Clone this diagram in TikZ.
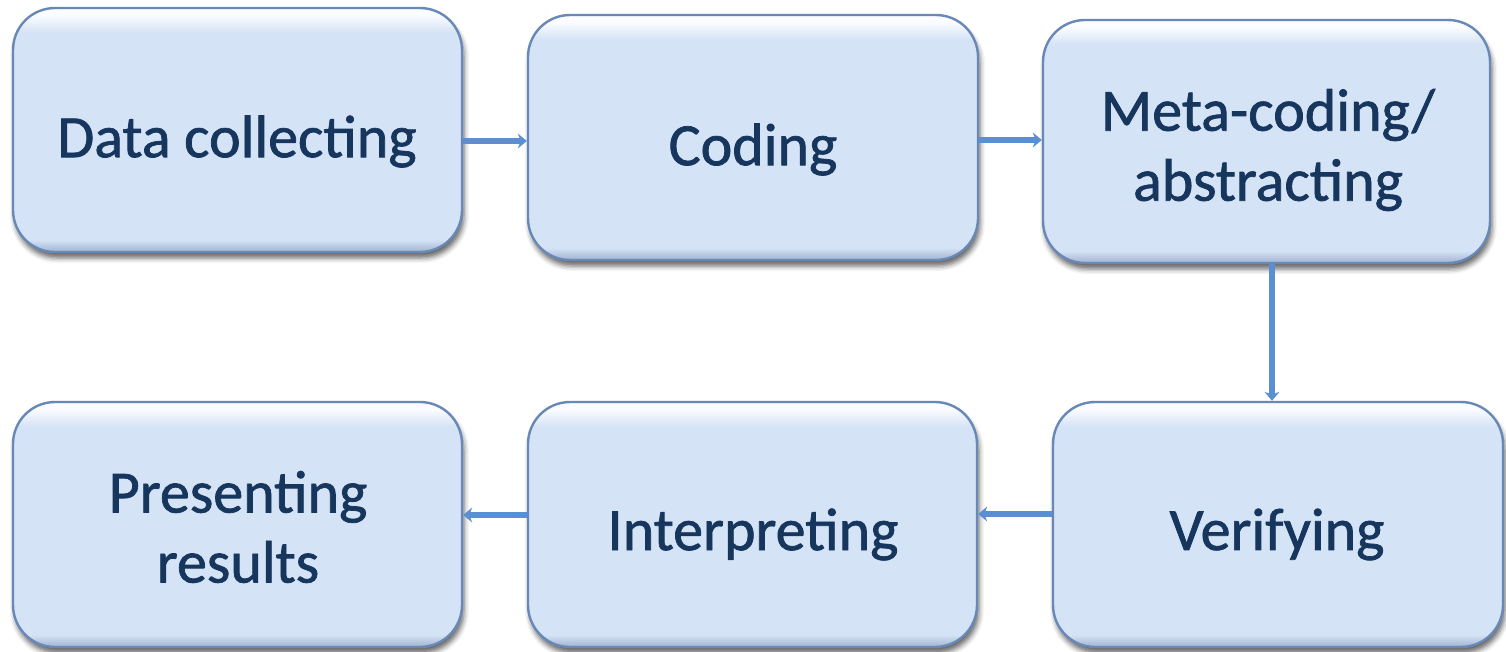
\documentclass[tikz,border=0pt]{standalone}
\usepackage{fontspec}
\setmainfont[FakeBold=1.2]{Carlito}
\usetikzlibrary{arrows.meta,shadows.blur}

\definecolor{boxmid}{RGB}{213,227,246}
\definecolor{boxlight}{RGB}{250,252,255}
\definecolor{boxdark}{RGB}{160,178,206}
\definecolor{boxedge}{RGB}{104,136,184}
\definecolor{labelink}{RGB}{23,54,93}
\definecolor{linkblue}{RGB}{90,143,211}

% vertical bevel: dark rim at the bottom, highlight at the top
\pgfdeclareverticalshading{bevelshade}{100bp}{%
  color(0bp)=(boxdark); color(25bp)=(boxdark); color(27.5bp)=(boxmid);
  color(70bp)=(boxmid); color(73.5bp)=(boxlight); color(100bp)=(boxlight)}

\tikzset{
  stepbox/.style={rectangle, rounded corners=42pt, draw=boxedge, line width=2.4pt,
    shading=bevelshade, minimum width=449pt, minimum height=244pt, inner sep=0pt,
    blur shadow={shadow xshift=2pt, shadow yshift=-6pt, shadow opacity=60,
      shadow blur radius=5pt}},
  steplabel/.style={text=labelink, font=\fontsize{60}{70}\selectfont, align=center,
    inner sep=0pt},
  link/.style={draw=linkblue, line width=6.5pt,
    -{Stealth[length=9pt, width=15pt]}}
}

\begin{document}
\begin{tikzpicture}[x=1pt, y=-1pt]
  \useasboundingbox (0,0) rectangle (1506,651);

  % boxes
  \node[stepbox] (collect)   at (237.5,130)   {};
  \node[stepbox, minimum width=450pt, minimum height=245pt] (code) at (753,137.5) {};
  \node[stepbox, minimum width=447pt, minimum height=243pt] (meta) at (1266.5,141.5) {};
  \node[stepbox, minimum height=245pt] (present) at (237.5,524.5) {};
  \node[stepbox, minimum height=245pt] (interp)  at (752.5,524.5) {};
  \node[stepbox, minimum width=450pt, minimum height=245pt] (verify) at (1278,524.5) {};

  % labels
  \node[steplabel] (tcollect) at (237,141.5) {Data collecting};
  \node[steplabel] (tcode)    at (753,149.5) {Coding};
  \node[steplabel] (tmeta)    at (1268,150)  {Meta-coding/\\abstracting};
  \node[steplabel] (tpresent) at (238,527)   {Presenting\\results};
  \node[steplabel] (tinterp)  at (753,534.5) {Interpreting};
  \node[steplabel] (tverify)  at (1277,534.5) {Verifying};

  % connectors
  \draw[link] (collect.east |- 0,141) -- (code.west |- 0,141);
  \draw[link] (code.east |- 0,140) -- (meta.west |- 0,140);
  \draw[link] (meta.south -| 1272,0) -- (verify.north -| 1272,0);
  \draw[link] (verify.west |- 0,514) -- (interp.east |- 0,514);
  \draw[link] (interp.west |- 0,515) -- (present.east |- 0,515);
\end{tikzpicture}
\end{document}
